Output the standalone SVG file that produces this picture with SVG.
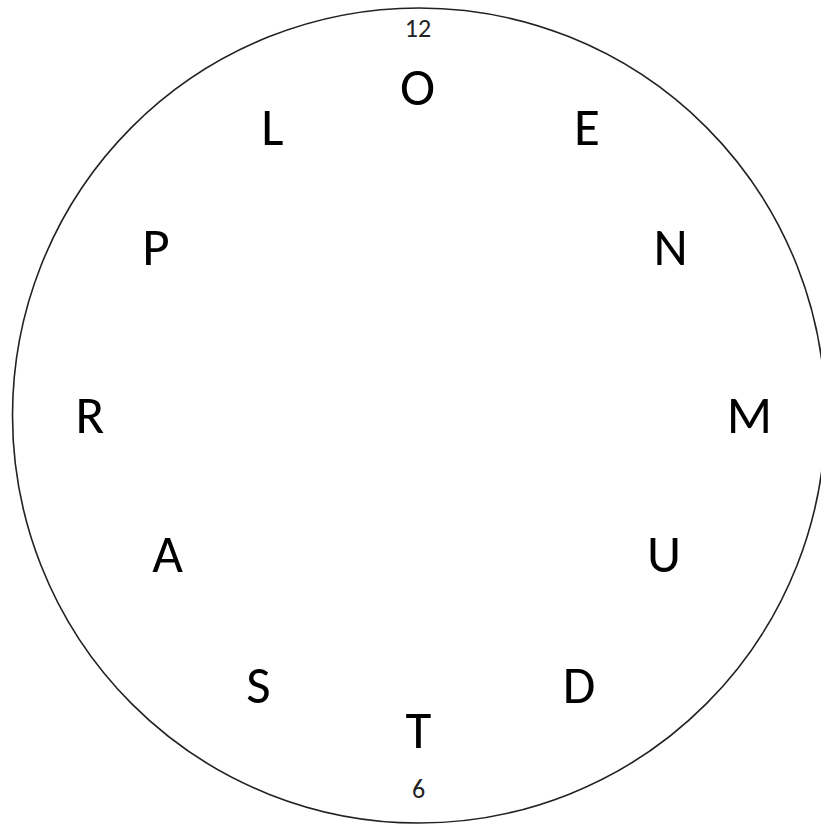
<svg xmlns="http://www.w3.org/2000/svg" width="821" height="825" viewBox="0 0 821 825">
<style>
.ring{fill:#fff;stroke:#222;stroke-width:1.6}
.big{font-family:Carlito,"Open Sans","Liberation Sans",sans-serif;font-size:53px;fill:#000;text-anchor:middle}
.num{font-family:Carlito,"Open Sans","Liberation Sans",sans-serif;font-size:26px;fill:#222;text-anchor:middle}
</style>
<rect width="821" height="825" fill="#fff"/>
<g id="clock-face">
<ellipse class="ring" cx="419" cy="415.5" rx="406.5" ry="407.5"/>
</g>
<g id="label-12"><text class="num" x="418" y="37">12</text></g>
<g id="label-6"><text class="num" x="418.5" y="798">6</text></g>
<g id="letter-O"><text class="big" x="417.6" y="105">O</text></g>
<g id="letter-E"><text class="big" x="587" y="145">E</text></g>
<g id="letter-N"><text class="big" x="670.5" y="265">N</text></g>
<g id="letter-M"><text class="big" x="749.5" y="433">M</text></g>
<g id="letter-U"><text class="big" x="664" y="572">U</text></g>
<g id="letter-D"><text class="big" x="579" y="703">D</text></g>
<g id="letter-T"><text class="big" x="418.5" y="748">T</text></g>
<g id="letter-S"><text class="big" x="258.5" y="703">S</text></g>
<g id="letter-A"><text class="big" x="167.5" y="572">A</text></g>
<g id="letter-R"><text class="big" x="90" y="433">R</text></g>
<g id="letter-P"><text class="big" x="156" y="265">P</text></g>
<g id="letter-L"><text class="big" x="272.5" y="145">L</text></g>
</svg>
